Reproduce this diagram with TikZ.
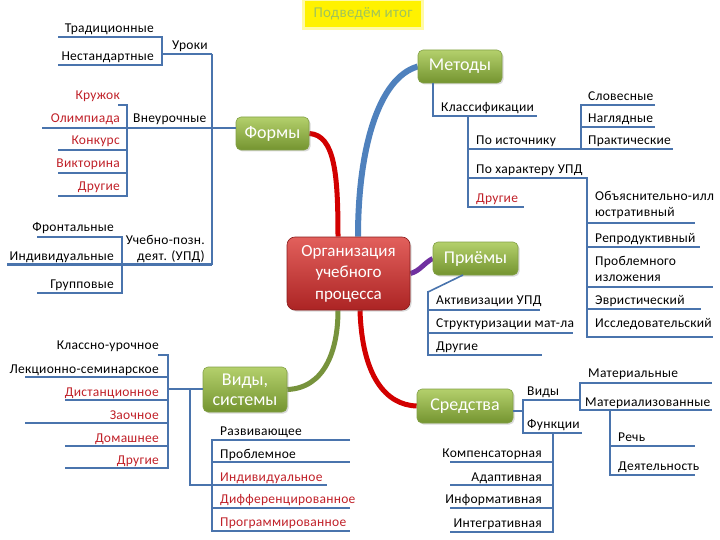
\documentclass[tikz,border=0pt]{standalone}
\usepackage{fontspec}
\setmainfont{Carlito}
\newfontfamily\lblfont{Carlito}[LetterSpace=2]
\usetikzlibrary{shadows,calc,backgrounds}
\definecolor{treeblue}{RGB}{74,116,173}
\definecolor{txtred}{RGB}{192,32,40}
\definecolor{curvered}{RGB}{210,0,0}
\definecolor{curveblue}{RGB}{79,129,189}
\definecolor{curvepurple}{RGB}{112,48,160}
\definecolor{curveolive}{RGB}{119,147,60}
\definecolor{gtop}{RGB}{180,208,108}
\definecolor{gbot}{RGB}{116,148,48}
\definecolor{gborder}{RGB}{130,160,70}
\definecolor{rtop}{RGB}{226,96,92}
\definecolor{rbot}{RGB}{172,36,36}
\definecolor{titlegreen}{RGB}{160,196,90}
\tikzset{
  lbl/.style={font=\lblfont\fontsize{13.5}{16}\selectfont, inner sep=0pt, text=black},
  lr/.style={lbl, anchor=base east},
  ll/.style={lbl, anchor=base west},
  redt/.style={text=txtred},
  tree/.style={draw=treeblue, line width=2.6pt},
  curve/.style={line width=5pt},
  greenbox/.style={rounded corners=5pt, top color=gtop, bottom color=gbot, draw=gborder,
    line width=0.6pt, text=white, font=\fontsize{18}{20}\selectfont, align=center, inner sep=1pt,
    drop shadow={opacity=0.3, shadow xshift=1.5pt, shadow yshift=-1.5pt}},
}
\begin{document}
\begin{tikzpicture}[x=1pt,y=-1pt]
\useasboundingbox (0,0) rectangle (720,540);

% ---------- central nodes ----------
\node[rounded corners=8pt, top color=rtop, bottom color=rbot, draw=rbot!80!black, line width=0.6pt,
  text=white, font=\fontsize{17}{21.5}\selectfont, align=center, minimum width=123pt, minimum height=73pt,
  inner sep=1pt, drop shadow={opacity=0.3, shadow xshift=1.5pt, shadow yshift=-1.5pt}]
  (center) at (348.5,273.5) {Организация\\учебного\\процесса};
\node[greenbox, minimum width=73pt, minimum height=33pt] (formy) at (272.5,133.5) {Формы};
\node[greenbox, minimum width=84pt, minimum height=33pt] (metody) at (460,66.5) {Методы};
\node[greenbox, minimum width=85pt, minimum height=33pt] (priemy) at (475.5,258.5) {Приёмы};
\node[greenbox, minimum width=84pt, minimum height=45pt] (vidy) at (245,389.5) {Виды,\\системы};
\node[greenbox, minimum width=96pt, minimum height=34pt] (sredstva) at (465,406) {Средства};

\node[fill=yellow, draw=yellow!35, line width=3pt, minimum width=119pt, minimum height=29pt,
  text=titlegreen, font=\lblfont\fontsize{15}{17}\selectfont] (title) at (363,14) {Подведём итог};

% ---------- thick curved connectors ----------
\begin{scope}[on background layer]
\draw[curve, curvered] (formy.east) .. controls (335,135) and (338,175) .. ([xshift=-10.5pt]center.north);
\draw[curve, curveblue, line width=6pt] (metody.west) .. controls (378,78) and (358,150) .. ([xshift=9.5pt]center.north);
\draw[curve, curvepurple] (center.east) .. controls (420,271) and (424,263) .. (priemy.west);
\draw[curve, curveolive] ([xshift=-10.5pt]center.south) .. controls (338,350) and (325,388) .. (vidy.east);
\draw[curve, curvered] ([xshift=11.5pt]center.south) .. controls (362,375) and (385,405) .. (sredstva.west);
\end{scope}

% ---------- Формы tree ----------
\draw[tree] (212,54) -- (212,265);
\draw[tree] (162,54) -- (212,54);
\draw[tree] (58,37) -- (162,37) -- (162,65) -- (58,65);
\draw[tree] (42,128) -- (formy.west |- 0,128);
\draw[tree] (118,105) -- (127,105) -- (127,196) -- (58,196);
\draw[tree] (58,150) -- (127,150);
\draw[tree] (58,173) -- (127,173);
\draw[tree] (37,237) -- (122,237) -- (122,293) -- (37,293);
\draw[tree] (7,264.5) -- (212,264.5);

\node[lr] (t1) at (154,33) {Традиционные};
\node[lr] (t2) at (154,61) {Нестандартные};
\node[ll] (uroki) at (172,50) {Уроки};
\node[lr, redt] (t3) at (120,100) {Кружок};
\node[lr, redt] (t4) at (120,123) {Олимпиада};
\node[ll] (vneur) at (133,123) {Внеурочные};
\node[lr, redt] (t5) at (120,145) {Конкурс};
\node[lr, redt] (t6) at (120,168) {Викторина};
\node[lr, redt] (t7) at (120,191) {Другие};
\node[lr] (t8) at (114,232) {Фронтальные};
\node[lr] (t9) at (114,260) {Индивидуальные};
\node[lr] (t10) at (114,288) {Групповые};
\node[lbl, anchor=base east, align=right] (upd) at (205,260) {Учебно-позн.\\деят. (УПД)};

% ---------- Виды, системы tree ----------
\draw[tree] (158,355) -- (168,355) -- (168,468) -- (65,468);
\draw[tree] (25,377) -- (168,377);
\draw[tree] (65,400) -- (168,400);
\draw[tree] (25,423) -- (168,423);
\draw[tree] (65,446) -- (168,446);
\draw[tree] (168,389) -- (vidy.west |- 0,389);
\draw[tree] (190,389) -- (190,485) -- (327,485);
\draw[tree] (350,440) -- (212,440) -- (212,531) -- (350,531);
\draw[tree] (212,462) -- (350,462);
\draw[tree] (212,508) -- (350,508);

\node[lr] (v1) at (159,349) {Классно-урочное};
\node[lr] (v2) at (159,373) {Лекционно-семинарское};
\node[lr, redt] (v3) at (159,396) {Дистанционное};
\node[lr, redt] (v4) at (159,419) {Заочное};
\node[lr, redt] (v5) at (159,442) {Домашнее};
\node[lr, redt] (v6) at (159,464) {Другие};
\node[ll] (s1) at (220,435) {Развивающее};
\node[ll] (s2) at (220,458) {Проблемное};
\node[ll, redt] (s3) at (220,481) {Индивидуальное};
\node[ll, redt] (s4) at (220,503) {Дифференцированное};
\node[ll, redt] (s5) at (220,526) {Программированное};

% ---------- Методы tree ----------
\draw[tree] (433,83) -- (433,116) -- (537,116);
\draw[tree] (468,116) -- (468,207) -- (524,207);
\draw[tree] (468,149) -- (673,149);
\draw[tree] (655,105) -- (581,105) -- (581,149);
\draw[tree] (581,127) -- (655,127);
\draw[tree] (468,178) -- (587,178) -- (587,337) -- (713,337);
\draw[tree] (587,223) -- (695,223);
\draw[tree] (587,247) -- (700,247);
\draw[tree] (587,287) -- (713,287);
\draw[tree] (587,309) -- (701,309);

\node[ll] (m1) at (441,112) {Классификации};
\node[ll] (m2) at (476,145) {По источнику};
\node[ll] (m3) at (476,174) {По характеру УПД};
\node[ll, redt] (m4) at (476,203) {Другие};
\node[ll] (m5) at (588,101) {Словесные};
\node[ll] (m6) at (588,123) {Наглядные};
\node[ll] (m7) at (588,145) {Практические};
\node[lbl, anchor=base west, align=left] (m8) at (595,217) {Объяснительно-илл\\юстративный};
\node[ll] (m9) at (595,242) {Репродуктивный};
\node[lbl, anchor=base west, align=left] (m10) at (595,281) {Проблемного\\изложения};
\node[ll] (m11) at (595,304) {Эвристический};
\node[ll] (m12) at (595,327) {Исследовательский};

% ---------- Приёмы tree ----------
\draw[draw=treeblue, line width=1.6pt] (463,275) -- (428,292);
\draw[tree] (428,291) -- (428,355) -- (542,355);
\draw[tree] (428,310) -- (540,310);
\draw[tree] (428,333) -- (573,333);
\node[ll] (p1) at (436,304) {Активизации УПД};
\node[ll] (p2) at (436,327) {Структуризации мат-ла};
\node[ll] (p3) at (436,350) {Другие};

% ---------- Средства tree ----------
\draw[tree] (sredstva.east |- 0,411) -- (523,411);
\draw[tree] (580,400) -- (523,400) -- (523,433) -- (582,433);
\draw[tree] (712,383) -- (580,383) -- (580,410) -- (712,410);
\draw[tree] (610,410) -- (610,475) -- (695,475);
\draw[tree] (610,446) -- (695,446);
\draw[tree] (553,433) -- (553,532) -- (450,532);
\draw[tree] (450,462) -- (553,462);
\draw[tree] (450,485) -- (553,485);
\draw[tree] (450,508) -- (553,508);

\node[ll] (c1) at (527,395) {Виды};
\node[ll] (c2) at (527,428) {Функции};
\node[ll] (c3) at (588,377) {Материальные};
\node[ll] (c4) at (585,406) {Материализованные};
\node[ll] (c5) at (618,441) {Речь};
\node[ll] (c6) at (618,470) {Деятельность};
\node[lr] (c7) at (542,457) {Компенсаторная};
\node[lr] (c8) at (542,481) {Адаптивная};
\node[lr] (c9) at (542,503) {Информативная};
\node[lr] (c10) at (542,527) {Интегративная};
\end{tikzpicture}
\end{document}
